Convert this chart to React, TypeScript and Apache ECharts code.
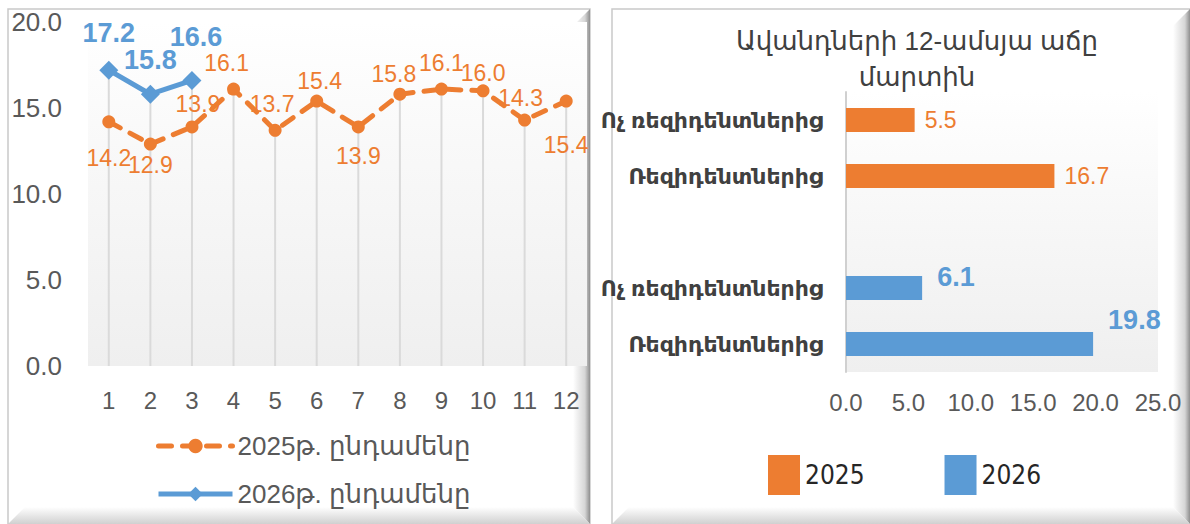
import React, { useEffect, useRef } from "react";
import * as echarts from "echarts";

// ---- Data ----
const months = ["1", "2", "3", "4", "5", "6", "7", "8", "9", "10", "11", "12"];
const total2025 = [14.2, 12.9, 13.9, 16.1, 13.7, 15.4, 13.9, 15.8, 16.1, 16.0, 14.3, 15.4];
const total2026 = [17.2, 15.8, 16.6];
const lineNames = ["2025թ. ընդամենը", "2026թ. ընդամենը"];

const barTitle = "Ավանդների 12-ամսյա աճը\nմարտին";
const barCategories = ["Ռեզիդենտներից", "Ոչ ռեզիդենտներից"]; // bottom -> top inside each group
const bar2025 = [16.7, 5.5];
const bar2026 = [19.8, 6.1];
const barNames = ["2025", "2026"];
const yTicks = [0, 5, 10, 15, 20];
const xTicks = [0, 5, 10, 15, 20, 25];

const ORANGE = "#ED7D31";
const BLUE = "#5B9BD5";
const FONT = "'Liberation Sans', 'DejaVu Sans', sans-serif";
const NARROW = "'Liberation Sans Narrow', 'DejaVu Sans Condensed', 'Liberation Sans', sans-serif";

// label placement styling for the 2025 line (position, distance, dx)
const place2025: [string, number, number][] = [
  ["bottom", 18, 0], ["bottom", 3, 0], ["top", 5, 6], ["top", 8, -7], ["top", 8, -3], ["top", 2, 3],
  ["bottom", 11, 0], ["top", 2, -6], ["top", 8, 0], ["top", 0, 0], ["top", 4, -4], ["bottom", 26, 0],
];
// (distance, dx)
const place2026: [number, number][] = [[14, 0], [11, 0], [20, 4]];

function frame(x1: number, y1: number, x2: number, y2: number) {
  const b = 17;
  return [
    {
      type: "rect", z: -10, silent: true,
      shape: { x: x1, y: y1, width: x2 - x1, height: y2 - y1 },
      style: { fill: "#ffffff", stroke: "#c9c9c9", lineWidth: 1.5 },
    },
    {
      type: "polygon", z: -9, silent: true,
      shape: { points: [[x2 - b, y1 + b], [x2, y1], [x2, y2], [x2 - b, y2 - b]] },
      style: {
        fill: new echarts.graphic.LinearGradient(0, 0, 1, 0, [
          { offset: 0, color: "#ffffff" },
          { offset: 0.7, color: "#d6d6d6" },
          { offset: 1, color: "#8f8f8f" },
        ]),
      },
    },
    {
      type: "polygon", z: -9, silent: true,
      shape: { points: [[x1, y2], [x1 + b, y2 - b], [x2 - b, y2 - b], [x2, y2]] },
      style: {
        fill: new echarts.graphic.LinearGradient(0, 0, 0, 1, [
          { offset: 0, color: "#ffffff" },
          { offset: 1, color: "#d0d0d0" },
        ]),
      },
    },
  ];
}

export default function App() {
  const ref = useRef<HTMLDivElement>(null);

  useEffect(() => {
    document.body.style.margin = "0";
    if (!ref.current) return;
    const chart = echarts.init(ref.current, undefined, { renderer: "svg" });

    const dropData = months.map((_, i) =>
      Math.max(total2025[i] ?? 0, total2026[i] ?? 0)
    );

    const slotLabels = [barCategories[0], barCategories[1], "", barCategories[0], barCategories[1]];
    const slots = slotLabels.map((_, i) => String(i));
    const s2026 = [bar2026[0], bar2026[1], null, null, null];
    const s2025 = [null, null, null, bar2025[0], bar2025[1]];
    const off2026: [number, number][] = [[0, -24], [0, -11]];

    const plotBg = new echarts.graphic.LinearGradient(0, 0, 0, 1, [
      { offset: 0, color: "#ffffff" },
      { offset: 0.35, color: "#f9f9f9" },
      { offset: 1, color: "#efefef" },
    ]);

    chart.setOption({
      animation: false,
      backgroundColor: "#ffffff",
      textStyle: { fontFamily: FONT },
      graphic: [
        ...frame(8, 9, 590, 524),
        ...frame(612, 9, 1190, 524),
      ],
      title: {
        text: barTitle,
        left: 912,
        top: 18,
        textAlign: "center",
        textStyle: { fontSize: 26, fontWeight: "normal", color: "#404040", fontFamily: FONT, lineHeight: 36 },
      },
      legend: [
        {
          data: [
            { name: lineNames[0], lineStyle: { width: 5, color: ORANGE } },
            { name: lineNames[1], lineStyle: { width: 5, color: BLUE, type: "solid" } },
          ],
          orient: "vertical",
          left: 151,
          top: 428,
          itemWidth: 74,
          itemHeight: 18,
          itemGap: 22,
          textStyle: { fontSize: 26, color: "#595959", fontFamily: FONT },
        },
        {
          data: barNames,
          orient: "horizontal",
          left: 763,
          top: 450,
          icon: "rect",
          itemWidth: 32,
          itemHeight: 40,
          itemGap: 80,
          textStyle: { fontSize: 26, color: "#262626", fontFamily: NARROW },
        },
      ],
      grid: [
        { left: 88, top: 22, width: 499, height: 344, show: true, backgroundColor: plotBg, borderWidth: 0 },
        { left: 846, top: 92, width: 312, height: 280, show: true, backgroundColor: plotBg, borderWidth: 0 },
      ],
      xAxis: [
        {
          gridIndex: 0,
          type: "category",
          data: months,
          boundaryGap: true,
          axisLine: { show: false },
          axisTick: { show: false },
          axisLabel: { fontSize: 24, color: "#595959", margin: 22, fontFamily: FONT },
        },
        {
          gridIndex: 1,
          type: "value",
          min: xTicks[0],
          max: xTicks[xTicks.length - 1],
          interval: 5,
          axisLine: { show: false },
          axisTick: { show: false },
          splitLine: { show: false },
          axisLabel: { fontSize: 24, color: "#595959", margin: 18, fontFamily: FONT, formatter: (v: number) => v.toFixed(1) },
        },
      ],
      yAxis: [
        {
          gridIndex: 0,
          type: "value",
          min: yTicks[0],
          max: yTicks[yTicks.length - 1],
          interval: 5,
          axisLine: { show: false },
          axisTick: { show: false },
          splitLine: { show: false },
          axisLabel: { fontSize: 26, color: "#595959", margin: 26, fontFamily: FONT, formatter: (v: number) => v.toFixed(1) },
        },
        {
          gridIndex: 1,
          type: "category",
          data: slots,
          axisLine: { show: true, lineStyle: { color: "#d0d0d0", width: 2 } },
          axisTick: { show: false },
          axisLabel: {
            fontSize: 22,
            fontWeight: "bold",
            color: "#404040",
            margin: 23,
            fontFamily: FONT,
            formatter: (v: string) => slotLabels[Number(v)],
          },
        },
      ],
      series: [
        {
          type: "bar",
          xAxisIndex: 0,
          yAxisIndex: 0,
          data: dropData,
          barWidth: 2,
          silent: true,
          itemStyle: { color: "#dadada" },
          z: 1,
          legendHoverLink: false,
        },
        {
          name: lineNames[0],
          type: "line",
          xAxisIndex: 0,
          yAxisIndex: 0,
          data: total2025.map((v, i) => ({
            value: v,
            label: {
              position: place2025[i][0],
              distance: place2025[i][1],
              offset: [place2025[i][2], 0],
            },
          })),
          symbol: "circle",
          symbolSize: 13,
          itemStyle: { color: ORANGE },
          lineStyle: { color: ORANGE, width: 5, type: [13, 11], cap: "round" },
          label: { show: true, color: ORANGE, fontSize: 23, fontFamily: FONT, formatter: (p: any) => Number(p.value).toFixed(1) },
          z: 3,
        },
        {
          name: lineNames[1],
          type: "line",
          xAxisIndex: 0,
          yAxisIndex: 0,
          data: total2026.map((v, i) => ({
            value: v,
            label: { distance: place2026[i][0], offset: [place2026[i][1], 0] },
          })),
          symbol: "diamond",
          symbolSize: 19,
          itemStyle: { color: BLUE },
          lineStyle: { color: BLUE, width: 5 },
          label: {
            show: true,
            position: "top",
            color: BLUE,
            fontSize: 27,
            fontWeight: "bold",
            fontFamily: FONT,
            formatter: (p: any) => Number(p.value).toFixed(1),
          },
          z: 4,
        },
        {
          name: barNames[0],
          type: "bar",
          xAxisIndex: 1,
          yAxisIndex: 1,
          data: s2025,
          barWidth: 24,
          barGap: "-100%",
          itemStyle: { color: ORANGE },
          label: {
            show: true,
            position: "right",
            distance: 10,
            color: ORANGE,
            fontSize: 23,
            fontFamily: FONT,
            formatter: (p: any) => Number(p.value).toFixed(1),
          },
        },
        {
          name: barNames[1],
          type: "bar",
          xAxisIndex: 1,
          yAxisIndex: 1,
          data: s2026.map((v, i) =>
            v == null ? null : { value: v, label: { offset: off2026[i] } }
          ),
          barWidth: 24,
          barGap: "-100%",
          itemStyle: { color: BLUE },
          label: {
            show: true,
            position: "right",
            distance: 15,
            color: BLUE,
            fontSize: 27,
            fontWeight: "bold",
            fontFamily: FONT,
            formatter: (p: any) => Number(p.value).toFixed(1),
          },
        },
      ],
    });

    return () => chart.dispose();
  }, []);

  return <div ref={ref} style={{ width: 1190, height: 524 }} />;
}
